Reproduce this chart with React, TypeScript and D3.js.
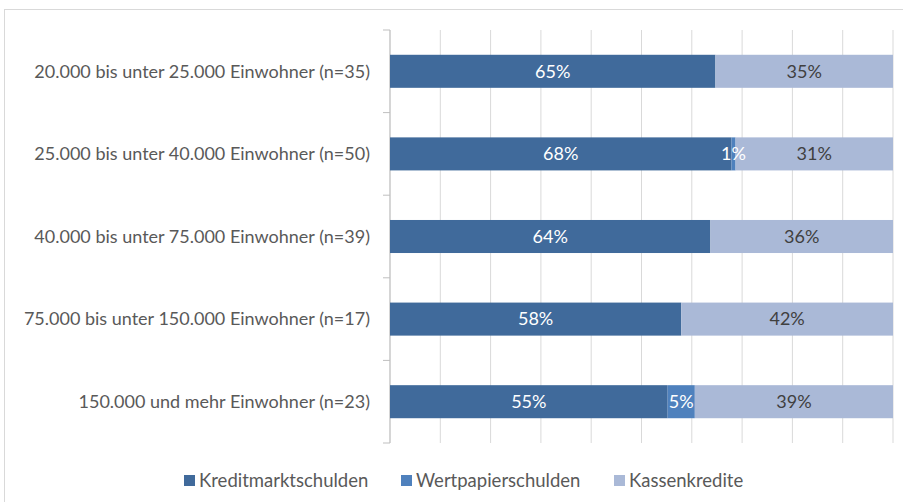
import React from "react";
import * as d3 from "d3";

const categories = [
  "20.000 bis unter 25.000 Einwohner (n=35)",
  "25.000 bis unter 40.000 Einwohner (n=50)",
  "40.000 bis unter 75.000 Einwohner (n=39)",
  "75.000 bis unter 150.000 Einwohner (n=17)",
  "150.000 und mehr Einwohner (n=23)",
];
const seriesNames = ["Kreditmarktschulden", "Wertpapierschulden", "Kassenkredite"];
const kreditmarkt = [64.7, 67.9, 63.7, 57.9, 55.2];
const wertpapier = [0, 0.8, 0, 0, 5.4];
const kassen = [35.3, 31.3, 36.3, 42.1, 39.4];
const colors = ["#406A9B", "#4F81BD", "#AAB9D7"];
const labelColors = ["#FFFFFF", "#FFFFFF", "#404040"];
const xTicks = d3.range(0, 101, 10);

const W = 903;
const H = 502;
const plot = { left: 390, right: 893, top: 30, bottom: 443 };
const FONT = "Lato, 'Open Sans', sans-serif";
const FS = 18;

export default function App() {
  const x = d3.scaleLinear().domain([0, 100]).range([plot.left, plot.right]);
  const y = d3.scaleBand<string>().domain(categories).range([plot.top, plot.bottom]).paddingInner(0.6).paddingOuter(0.3);
  const rows = categories.map((c, i) => ({ cat: c, vals: [kreditmarkt[i], wertpapier[i], kassen[i]] }));
  const stack = d3.stack<any>().keys(["0", "1", "2"]).value((d: any, k: string) => d.vals[+k]);
  const stacked = stack(rows as any);
  const bandStep = (plot.bottom - plot.top) / categories.length;
  const legendX = [184, 401, 614];

  return (
    <svg width={W} height={H} style={{ position: "absolute", left: 0, top: 0, background: "#fff" }} fontFamily={FONT}>
      <rect x={4.5} y={9.5} width={W} height={H} fill="#fff" stroke="#D9D9D9" />
      {xTicks.map((t) => (
        <line key={t} x1={x(t)} x2={x(t)} y1={plot.top} y2={plot.bottom} stroke="#D9D9D9" strokeWidth={1} />
      ))}
      <line x1={plot.left} x2={plot.left} y1={plot.top} y2={plot.bottom} stroke="#BFBFBF" />
      {d3.range(categories.length + 1).map((i) => (
        <line key={i} x1={plot.left - 7} x2={plot.left} y1={plot.top + i * bandStep} y2={plot.top + i * bandStep} stroke="#BFBFBF" />
      ))}
      {stacked.map((layer, si) =>
        layer.map((d, i) => {
          const v = d[1] - d[0];
          if (v <= 0) return null;
          const yy = y(categories[i])!;
          return <rect key={si + "-" + i} x={x(d[0])} y={yy} width={x(d[1]) - x(d[0])} height={y.bandwidth()} fill={colors[si]} />;
        })
      )}
      {stacked.map((layer, si) =>
        layer.map((d, i) => {
          const v = d[1] - d[0];
          if (v <= 0) return null;
          const yy = y(categories[i])! + y.bandwidth() / 2;
          return (
            <text key={"t" + si + "-" + i} x={(x(d[0]) + x(d[1])) / 2} y={yy} dy="0.35em" textAnchor="middle" fontSize={FS} fill={labelColors[si]}>
              {Math.round(v) + "%"}
            </text>
          );
        })
      )}
      {categories.map((c) => (
        <text key={c} x={plot.left - 20} y={y(c)! + y.bandwidth() / 2} dy="0.35em" textAnchor="end" fontSize={FS} fill="#595959">
          {c}
        </text>
      ))}
      {seriesNames.map((s, i) => (
        <g key={s}>
          <rect x={legendX[i]} y={475} width={11} height={11} fill={colors[i]} />
          <text x={legendX[i] + 15} y={480.5} dy="0.35em" fontSize={18.5} fill="#595959">
            {s}
          </text>
        </g>
      ))}
    </svg>
  );
}
